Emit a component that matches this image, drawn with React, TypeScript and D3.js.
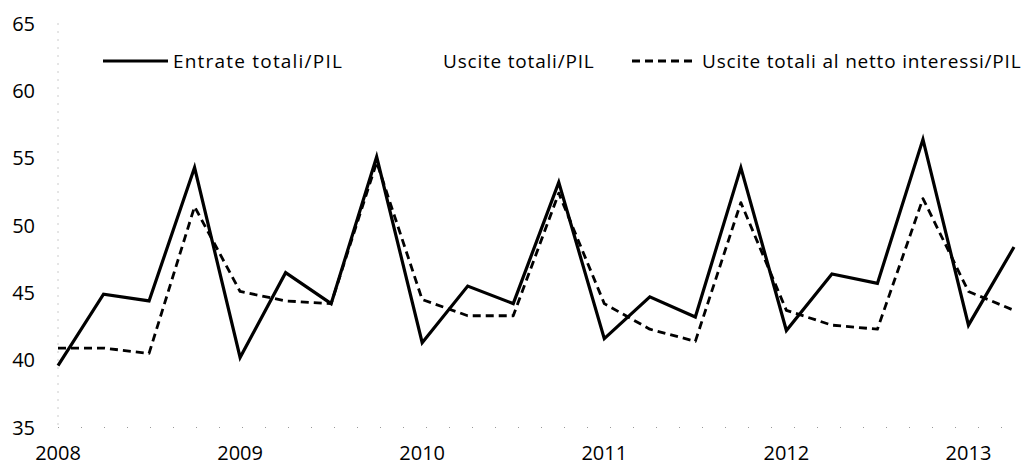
import React from "react";
import * as d3 from "d3";

const quarters = [
  "2008Q1","2008Q2","2008Q3","2008Q4",
  "2009Q1","2009Q2","2009Q3","2009Q4",
  "2010Q1","2010Q2","2010Q3","2010Q4",
  "2011Q1","2011Q2","2011Q3","2011Q4",
  "2012Q1","2012Q2","2012Q3","2012Q4",
  "2013Q1","2013Q2",
];
const entrate = [
  39.6, 44.9, 44.4, 54.3,
  40.2, 46.5, 44.2, 55.1,
  41.3, 45.5, 44.2, 53.2,
  41.6, 44.7, 43.2, 54.3,
  42.2, 46.4, 45.7, 56.4,
  42.6, 48.4,
];
const usciteNetto = [
  40.9, 40.9, 40.5, 51.4,
  45.1, 44.4, 44.2, 54.7,
  44.5, 43.3, 43.3, 52.4,
  44.2, 42.3, 41.4, 51.7,
  43.7, 42.6, 42.3, 52.0,
  45.1, 43.7,
];
const yTicks = [35, 40, 45, 50, 55, 60, 65];
const yearLabels = ["2008", "2009", "2010", "2011", "2012", "2013"];
const legendLabels = ["Entrate totali/PIL", "Uscite totali/PIL", "Uscite totali al netto interessi/PIL"];

const W = 1029;
const H = 466;
const FONT = "'Open Sans', Lato, sans-serif";

export default function App() {
  const x = d3.scaleLinear().domain([0, quarters.length - 1]).range([58, 1014]);
  const y = d3.scaleLinear().domain([35, 65]).range([427.5, 23.5]);
  const line = d3
    .line<number>()
    .x((_, i) => x(i))
    .y((d) => y(d));

  return (
    <svg
      width={W}
      height={H}
      style={{ position: "absolute", left: 0, top: 0, display: "block", background: "#fff" }}
      fontFamily={FONT}
    >
      {/* axes (faint dotted) */}
      <line x1={58} x2={58} y1={y(65)} y2={y(35)} stroke="#999" strokeWidth={1} strokeDasharray="1,7" />
      <line x1={58} x2={1024} y1={y(35)} y2={y(35)} stroke="#999" strokeWidth={1} strokeDasharray="1,22" />

      {yTicks.map((t) => (
        <text key={t} x={35} y={y(t) + 7} textAnchor="end" fontSize={20} fill="#000">
          {t}
        </text>
      ))}
      {yearLabels.map((lab, i) => (
        <text key={lab} x={x(i * 4)} y={460} textAnchor="middle" fontSize={20} fill="#000">
          {lab}
        </text>
      ))}

      <path d={line(usciteNetto) || ""} fill="none" stroke="#000" strokeWidth={2.8} strokeDasharray="8,5" strokeLinejoin="round" />
      <path d={line(entrate) || ""} fill="none" stroke="#000" strokeWidth={3.2} strokeLinejoin="miter" />

      {/* legend */}
      <line x1={103} x2={168} y1={61} y2={61} stroke="#000" strokeWidth={3} />
      <text x={173} y={68} fontSize={19} letterSpacing={1.2} fill="#000">{legendLabels[0]}</text>
      <text x={443} y={68} fontSize={19} letterSpacing={0.8} fill="#000">{legendLabels[1]}</text>
      <line x1={632} x2={695} y1={61} y2={61} stroke="#000" strokeWidth={2.8} strokeDasharray="8,5" />
      <text x={702} y={68} fontSize={19} letterSpacing={0.8} fill="#000">{legendLabels[2]}</text>
    </svg>
  );
}
